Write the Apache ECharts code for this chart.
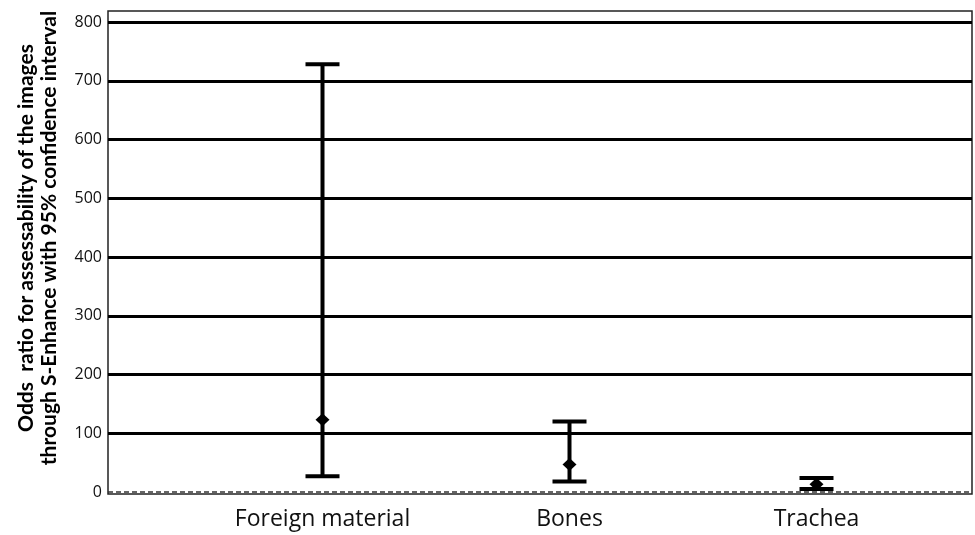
<!DOCTYPE html>
<html>
<head>
<meta charset="utf-8">
<script src="https://cdn.jsdelivr.net/npm/echarts@6/dist/echarts.min.js"></script>
<style>
  html, body { margin: 0; padding: 0; background: #fff; }
  #chart { width: 975px; height: 535px; }
</style>
</head>
<body>
<div id="chart"></div>
<script>
  // odds ratio with 95% CI per region
  const categories = ['Foreign material', 'Bones', 'Trachea']
  const oddsRatio = [123, 47, 13]
  const lowerCI = [27, 18, 5]
  const upperCI = [728, 120, 24]
  const referenceLine = 1 // OR = 1
  const yMin = 0
  const yMax = 800
  const yStep = 100

  const chart = echarts.init(document.getElementById('chart'))

  const option = {
    animation: false,
    grid: [
      // outer frame
      { left: 108, right: 3, top: 11, bottom: 41, show: true, borderColor: '#222', borderWidth: 1.5 },
      // gridlines + y labels
      { left: 108, right: 3, top: 22, bottom: 43 },
      // error bars + category labels
      { left: 199, right: 35, top: 22, bottom: 43 }
    ],
    xAxis: [
      { gridIndex: 0, type: 'value', show: false },
      { gridIndex: 1, type: 'value', min: 0, max: 1, show: false },
      {
        gridIndex: 2,
        type: 'category',
        data: categories,
        axisLine: { show: false },
        axisTick: { show: false },
        axisLabel: { fontFamily: 'Open Sans', fontSize: 23, color: '#111', margin: 16 }
      }
    ],
    yAxis: [
      { gridIndex: 0, type: 'value', show: false },
      {
        gridIndex: 1,
        type: 'value',
        min: yMin,
        max: yMax,
        interval: yStep,
        axisLine: { show: false },
        axisTick: { show: false },
        axisLabel: { fontFamily: 'Open Sans', fontSize: 16, color: '#111', margin: 6 },
        splitLine: { showMinLine: false, lineStyle: { color: '#000', width: 2.8 } }
      },
      { gridIndex: 2, type: 'value', min: yMin, max: yMax, interval: yStep, show: false }
    ],
    graphic: [{
      type: 'text',
      x: 38,
      y: 238,
      rotation: Math.PI / 2,
      style: {
        text: 'Odds  ratio for assessability of the images\nthrough S-Enhance with 95% confidence interval',
        fontFamily: 'Lato',
        fontWeight: 'bold',
        fontSize: 21,
        lineHeight: 23,
        fill: '#000',
        textAlign: 'center',
        textVerticalAlign: 'middle'
      }
    }],
    series: [
      {
        // dashed reference line at OR = 1
        type: 'line',
        xAxisIndex: 1,
        yAxisIndex: 1,
        data: [],
        markLine: {
          silent: true,
          symbol: 'none',
          label: { show: false },
          lineStyle: { color: '#333', width: 1.5, type: [5, 3] },
          data: [{ yAxis: referenceLine }]
        }
      },
      {
        type: 'custom',
        xAxisIndex: 2,
        yAxisIndex: 2,
        data: categories.map((c, i) => [i, oddsRatio[i], lowerCI[i], upperCI[i]]),
        renderItem: (params, api) => {
          const x = api.value(0)
          const mid = api.coord([x, api.value(1)])
          const lo = api.coord([x, api.value(2)])
          const hi = api.coord([x, api.value(3)])
          const cap = 17
          const lw = 4
          const style = { stroke: '#000', lineWidth: lw }
          return {
            type: 'group',
            children: [
              { type: 'line', shape: { x1: lo[0], y1: lo[1], x2: hi[0], y2: hi[1] }, style },
              { type: 'line', shape: { x1: hi[0] - cap, y1: hi[1], x2: hi[0] + cap, y2: hi[1] }, style },
              { type: 'line', shape: { x1: lo[0] - cap, y1: lo[1], x2: lo[0] + cap, y2: lo[1] }, style },
              {
                type: 'polygon',
                shape: {
                  points: [
                    [mid[0], mid[1] - 6.5],
                    [mid[0] + 7, mid[1]],
                    [mid[0], mid[1] + 6.5],
                    [mid[0] - 7, mid[1]]
                  ]
                },
                style: { fill: '#000' }
              }
            ]
          }
        }
      }
    ]
  }

  chart.setOption(option)
</script>
</body>
</html>
